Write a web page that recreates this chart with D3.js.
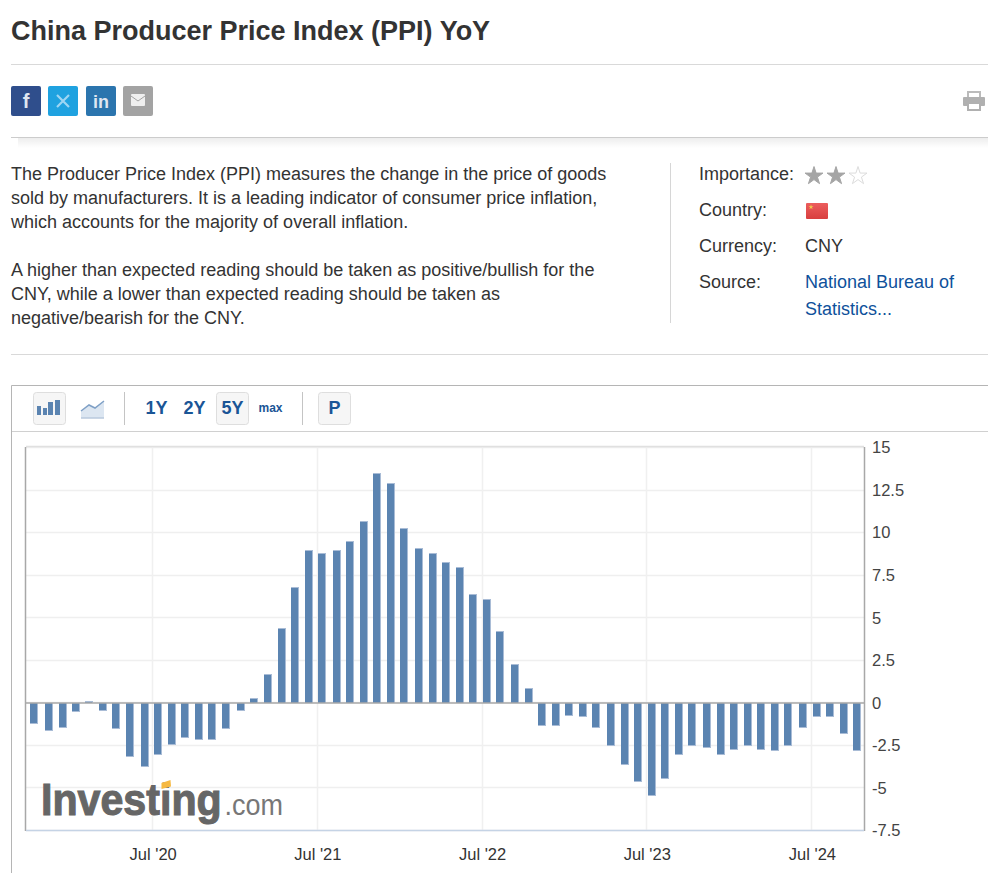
<!DOCTYPE html>
<html><head><meta charset="utf-8">
<script src="https://cdn.jsdelivr.net/npm/d3@7/dist/d3.min.js"></script>
<style>
html,body{margin:0;padding:0;background:#fff;overflow:hidden}
svg{display:block}
text{font-family:"Liberation Sans",Arial,sans-serif}
</style></head><body><svg id="c" width="988" height="873"></svg>
<script>
const releaseDates = ["2019-10-11","2019-11-13","2019-12-14","2020-01-12","2020-02-11","2020-03-12","2020-04-11","2020-05-11","2020-06-13","2020-07-13","2020-08-12","2020-09-11","2020-10-11","2020-11-09","2020-12-10","2021-01-12","2021-02-10","2021-03-13","2021-04-12","2021-05-11","2021-06-11","2021-07-10","2021-08-13","2021-09-11","2021-10-12","2021-11-10","2021-12-10","2022-01-09","2022-02-11","2022-03-14","2022-04-12","2022-05-12","2022-06-11","2022-07-11","2022-08-10","2022-09-12","2022-10-12","2022-11-11","2022-12-11","2023-01-10","2023-02-09","2023-03-10","2023-04-13","2023-05-13","2023-06-12","2023-07-12","2023-08-10","2023-09-10","2023-10-09","2023-11-11","2023-12-12","2024-01-10","2024-02-10","2024-03-10","2024-04-10","2024-05-09","2024-06-11","2024-07-12","2024-08-10","2024-09-09","2024-10-09"];
const ppiValues = [-1.2,-1.6,-1.4,-0.5,0.1,-0.4,-1.5,-3.1,-3.7,-3.0,-2.4,-2.0,-2.1,-2.1,-1.5,-0.4,0.3,1.7,4.4,6.8,9.0,8.8,9.0,9.5,10.7,13.5,12.9,10.3,9.1,8.8,8.3,8.0,6.4,6.1,4.2,2.3,0.9,-1.3,-1.3,-0.7,-0.8,-1.4,-2.5,-3.6,-4.6,-5.4,-4.4,-3.0,-2.5,-2.6,-3.0,-2.7,-2.5,-2.7,-2.8,-2.5,-1.4,-0.8,-0.8,-1.8,-2.8];
const yTicks = [15,12.5,10,7.5,5,2.5,0,-2.5,-5,-7.5];
const xTicks = ["2020-07-01","2021-07-01","2022-07-01","2023-07-01","2024-07-01"];
const titleText = "China Producer Price Index (PPI) YoY";
const descriptionLines = ["The Producer Price Index (PPI) measures the change in the price of goods","sold by manufacturers. It is a leading indicator of consumer price inflation,","which accounts for the majority of overall inflation.","","A higher than expected reading should be taken as positive/bullish for the","CNY, while a lower than expected reading should be taken as","negative/bearish for the CNY."];
const rangeButtons = ["1Y","2Y","5Y","max"];

const svg = d3.select("#c");
const parse = d3.utcParse("%Y-%m-%d");
const fmtX = d3.utcFormat("%b '%y");
const L=26,R=864,T=447,B=830;
const t0=parse("2020-07-01"),t1=parse("2024-07-01");
const pxPerMs=(811.9-152.7)/(t1-t0);
const x=d3.scaleUtc().domain([new Date(+t0-(152.7-L)/pxPerMs),new Date(+t1+(R-811.9)/pxPerMs)]).range([L,R]);
const y=d3.scaleLinear().domain([-7.5,15]).range([830.5,447.5]);
const data=releaseDates.map((d,i)=>({date:parse(d),value:ppiValues[i]}));
const line=(x1,y1,x2,y2,c,w=1)=>svg.append("line").attr("x1",x1).attr("y1",y1).attr("x2",x2).attr("y2",y2).attr("stroke",c).attr("stroke-width",w);
const txt=(s,a,b,o={})=>svg.append("text").attr("x",a).attr("y",b).attr("font-size",o.size||18).attr("fill",o.fill||"#333").attr("font-weight",o.weight||"normal").attr("text-anchor",o.anchor||"start").text(s);

// header
txt(titleText,11,40,{size:27,weight:"bold"});
line(11,64.5,988,64.5,"#d9d9d9");
const defs=svg.append("defs");
const sh=defs.append("linearGradient").attr("id","sh").attr("x1",0).attr("x2",0).attr("y1",0).attr("y2",1);
sh.append("stop").attr("offset",0).attr("stop-color","#000").attr("stop-opacity",.07);
sh.append("stop").attr("offset",1).attr("stop-color","#000").attr("stop-opacity",0);
svg.append("rect").attr("x",18).attr("y",138).attr("width",970).attr("height",10).attr("fill","url(#sh)");
line(11,137.5,988,137.5,"#cccccc");

// social buttons
const socials=[{x:11,c:"#2f4e8c",t:"f",s:20},{x:48,c:"#1fa2e0"},{x:86,c:"#2b75ae",t:"in",s:18},{x:123,c:"#a3a3a3"}];
socials.forEach(d=>{
  svg.append("rect").attr("x",d.x).attr("y",86).attr("width",30).attr("height",30).attr("rx",2).attr("fill",d.c);
  if(d.t) svg.append("text").attr("x",d.x+15).attr("y",108).attr("text-anchor","middle").attr("font-size",d.s).attr("font-weight","bold").attr("fill","#dfe6f1").text(d.t);
});
svg.append("path").attr("d","M57 95L69 107M69 95L57 107").attr("fill","none").attr("stroke","#9ed6f3").attr("stroke-width",2.2);
svg.append("rect").attr("x",131).attr("y",94).attr("width",14).attr("height",12).attr("rx",1).attr("fill","#efefef");
svg.append("path").attr("d","M131 96 L138 101 L145 96").attr("fill","none").attr("stroke","#a3a3a3").attr("stroke-width",1);
// printer
svg.append("rect").attr("x",968).attr("y",92).attr("width",12).attr("height",6).attr("fill","#fff").attr("stroke","#bbb").attr("stroke-width",2);
svg.append("rect").attr("x",963).attr("y",97).attr("width",22).attr("height",9).attr("rx",1).attr("fill","#b0b0b0");
svg.append("rect").attr("x",968).attr("y",103).attr("width",12).attr("height",7).attr("fill","#fff").attr("stroke","#b0b0b0").attr("stroke-width",2);

// description
descriptionLines.forEach((s,i)=>txt(s,11,180+i*24));
line(670.5,163,670.5,323,"#d6d6d6");
line(11,354.5,988,354.5,"#d9d9d9");
[["Importance:",180],["Country:",216],["Currency:",252],["Source:",288]].forEach(d=>txt(d[0],699,d[1]));
txt("CNY",805,252);
txt("National Bureau of",805,288,{fill:"#0e519b"});
txt("Statistics...",805,315,{fill:"#0e519b"});
const star=d3.symbol().type(d3.symbolStar).size(100);
[[814,"#a5a5a5","#a5a5a5"],[836,"#a5a5a5","#a5a5a5"],[858,"#fff","#dcdcdc"]].forEach(d=>svg.append("path").attr("d",star()).attr("transform",`translate(${d[0]},176)`).attr("fill",d[1]).attr("stroke",d[2]));
const fg=defs.append("linearGradient").attr("id","fg").attr("x1",0).attr("x2",0).attr("y1",0).attr("y2",1);
fg.append("stop").attr("offset",0).attr("stop-color","#ec5d5d");
fg.append("stop").attr("offset",1).attr("stop-color","#d83f3f");
svg.append("rect").attr("x",806).attr("y",203).attr("width",22).attr("height",16).attr("rx",1).attr("fill","url(#fg)");
svg.append("path").attr("d",d3.symbol().type(d3.symbolStar).size(8)()).attr("transform","translate(811,207)").attr("fill","#f2c94c");

// toolbar frame
svg.append("path").attr("d","M11.5 873V385.5H988").attr("fill","none").attr("stroke","#b5b5b5");
line(12,431.5,988,431.5,"#d0d0d0");
line(124.5,392,124.5,425,"#c4c4c4");
line(302.5,392,302.5,425,"#c4c4c4");
const btn=(a,w)=>svg.append("rect").attr("x",a+.5).attr("y",392.5).attr("width",w).attr("height",32).attr("rx",3).attr("fill","#f6f6f6").attr("stroke","#dedede");
btn(33,32);btn(216,32);btn(318,32);
[[37,406,4,9],[43,408,4,7],[48,402,5,13],[55,400,5,15]].forEach(d=>svg.append("rect").attr("x",d[0]).attr("y",d[1]).attr("width",d[2]).attr("height",d[3]).attr("fill","#5b84b1"));
svg.append("path").attr("d","M81 411L89 405L95 408L104 401V418H81Z").attr("fill","#dce6f1");
svg.append("path").attr("d","M81 411L89 405L95 408L104 401").attr("fill","none").attr("stroke","#7fa0c6").attr("stroke-width",1.5);
line(81,418,104,418,"#b9c9dc",1.5);
[[156.5,414,18],[194.5,414,18],[232.5,414,18],[270.5,412,12]].forEach((d,i)=>svg.append("text").attr("x",d[0]).attr("y",d[1]).attr("text-anchor","middle").attr("font-size",d[2]).attr("font-weight","bold").attr("fill","#1a5596").text(rangeButtons[i]));
svg.append("text").attr("x",334.5).attr("y",414).attr("text-anchor","middle").attr("font-size",18).attr("font-weight","bold").attr("fill","#1a5596").text("P");

// grid
const gridC="#efefef";
yTicks.forEach(v=>line(L,Math.floor(y(v))+.5,R,Math.floor(y(v))+.5,gridC,1.5));
xTicks.forEach(d=>{const p=Math.floor(x(parse(d)))+.5;line(p,T,p,B,"#f0f0f0",1.5)});

// logo (horizontally squeezed with a transform so the two words do not overlap)
svg.append("text").attr("transform","translate(41,814.5) scale(0.915,1)").attr("font-size",45).attr("font-weight","bold").attr("fill","#666").attr("stroke","#666").attr("stroke-width",1.1).text("Investing");
svg.append("text").attr("transform","translate(224.5,814.5) scale(0.9,1)").attr("font-size",30).attr("fill","#777").text(".com");
svg.append("path").attr("d","M161.5 783L170.5 780L171 786.5L161.5 789Z").attr("fill","#f6b942");

// bars
const bw=8;
const g=svg.append("g");
const bx=d=>Math.round(x(d.date)-bw/2+.3);
const by=d=>d.value>0?Math.round(y(d.value)):703;
const bh=d=>Math.max(1,d.value>0?703-by(d):Math.round(y(d.value))-703+1);
g.selectAll("rect.o").data(data).join("rect").attr("class","o").attr("x",bx).attr("y",by).attr("width",bw).attr("height",bh).attr("fill","#a9bcd6");
g.selectAll("rect.i").data(data).join("rect").attr("class","i").attr("x",bx).attr("y",d=>d.value>0?by(d)+1:by(d)).attr("width",bw-1).attr("height",d=>Math.max(1,bh(d)-1)).attr("fill","#5b84b1");

// borders
line(L,T-.5,R,T-.5,"#e0e0e0",1.5);
line(L-.5,T,L-.5,B+1,"#a8a8a8",1.5);
line(R+.5,T,R+.5,B+1,"#a8a8a8",1.5);
line(L,B+.5,R,B+.5,"#c5d3e5",1.5);
line(L,703,R,703,"#a8a8a8",1.5);

// axes
const ax=svg.append("g").attr("transform",`translate(${R},0)`).call(d3.axisRight(y).tickValues(yTicks).tickSize(0).tickPadding(8).tickFormat(d=>String(d)));
ax.select(".domain").remove();
ax.selectAll("text").attr("font-size",16.5).attr("fill","#444").style("font-family",'"Liberation Sans"');
const bxa=svg.append("g").attr("transform",`translate(0,${B})`).call(d3.axisBottom(x).tickValues(xTicks.map(parse)).tickSize(0).tickPadding(18).tickFormat(fmtX));
bxa.select(".domain").remove();
bxa.selectAll("text").attr("font-size",16.5).attr("fill","#333").style("font-family",'"Liberation Sans"');
</script></body></html>
